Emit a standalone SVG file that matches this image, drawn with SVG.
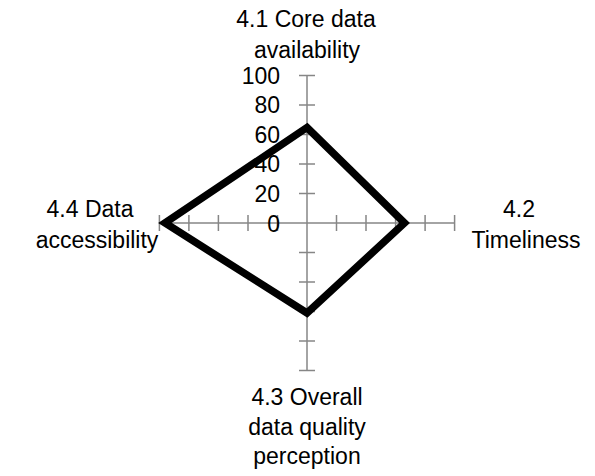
<svg xmlns="http://www.w3.org/2000/svg" width="595" height="476" viewBox="0 0 595 476">
  <style>
    .axis { stroke: #868686; stroke-width: 1.5; fill: none; }
    .tick { stroke: #868686; stroke-width: 1.5; }
    .val { font-family: "Liberation Sans", Arial, sans-serif; font-size: 23px; fill: #000; text-anchor: end; }
    .cat { font-family: "Liberation Sans", Arial, sans-serif; font-size: 23px; fill: #000; text-anchor: middle; }
    .series { fill: none; stroke: #000; stroke-width: 7.5; stroke-linejoin: miter; }
  </style>
  <rect width="595" height="476" fill="#fff"/>

  <!-- radar axes, centre (307,223), radius 147.6 -->
  <g id="axes">
    <line class="axis" x1="307" y1="75.4" x2="307" y2="370.6"/>
    <line class="axis" x1="159.4" y1="223" x2="454.6" y2="223"/>
    <!-- ticks on the vertical axis -->
    <path class="tick" d="M299 75.4h16M299 104.9h16M299 134.4h16M299 164h16M299 193.5h16
                          M299 252.5h16M299 282h16M299 311.6h16M299 341.1h16M299 370.6h16"/>
    <!-- ticks on the horizontal axis -->
    <path class="tick" d="M159.4 215v16M188.9 215v16M218.4 215v16M248 215v16M277.5 215v16
                          M336.5 215v16M366 215v16M395.6 215v16M425.1 215v16M454.6 215v16"/>
  </g>

  <!-- value scale -->
  <g id="scale">
    <text class="val" x="280" y="84">100</text>
    <text class="val" x="280" y="113">80</text>
    <text class="val" x="280" y="142.5">60</text>
    <text class="val" x="280" y="172">40</text>
    <text class="val" x="280" y="201.5">20</text>
    <text class="val" x="280" y="232">0</text>
  </g>

  <!-- data series -->
  <g id="connectors">
    <polygon class="series" points="307,127.5 404.5,223 307,313 165,223"/>
  </g>

  <!-- category labels -->
  <g id="n41">
    <text class="cat" x="306" y="27">4.1 Core data</text>
    <text class="cat" x="307" y="58">availability</text>
  </g>
  <g id="n42">
    <text class="cat" x="519" y="217">4.2</text>
    <text class="cat" x="526" y="248">Timeliness</text>
  </g>
  <g id="n43">
    <text class="cat" x="307" y="405">4.3 Overall</text>
    <text class="cat" x="307" y="435">data quality</text>
    <text class="cat" x="307" y="464">perception</text>
  </g>
  <g id="n44">
    <text class="cat" x="90" y="217">4.4 Data</text>
    <text class="cat" x="97" y="248">accessibility</text>
  </g>
</svg>
